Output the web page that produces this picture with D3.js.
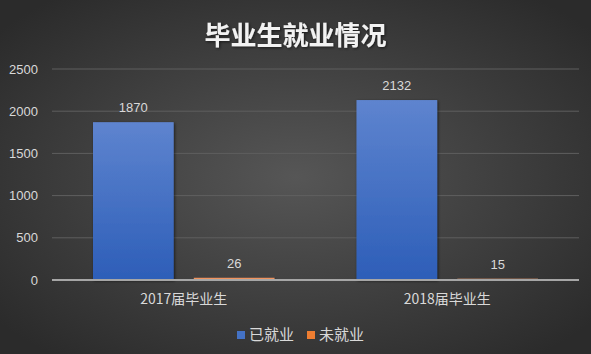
<!DOCTYPE html>
<html>
<head>
<meta charset="utf-8">
<script src="https://cdn.jsdelivr.net/npm/d3@7"></script>
<style>
  body { margin: 0; background: #333; }
  svg { display: block; font-family: "Noto Sans CJK SC", "Microsoft YaHei", sans-serif; }
</style>
</head>
<body>
<div class="chart"></div>
<script>
// data
const categories = ["2017届毕业生", "2018届毕业生"];
const seriesNames = ["已就业", "未就业"];
const employed = [1870, 2132];
const unemployed = [26, 15];
const yTicks = [0, 500, 1000, 1500, 2000, 2500];

const W = 591, H = 354;
const margin = {top: 69, right: 12, bottom: 74, left: 52};
const width = W - margin.left - margin.right,
      height = H - margin.top - margin.bottom;

const svg = d3.select(".chart").append("svg")
  .attr("width", W).attr("height", H);

const defs = svg.append("defs");
const bg = defs.append("radialGradient").attr("id", "bg")
  .attr("cx", "50%").attr("cy", "50%").attr("r", "65%");
bg.append("stop").attr("offset", "0%").attr("stop-color", "#565656");
bg.append("stop").attr("offset", "100%").attr("stop-color", "#2b2b2b");

const blueGrad = defs.append("linearGradient").attr("id", "blueGrad")
  .attr("x1", 0).attr("y1", 0).attr("x2", 0).attr("y2", 1);
blueGrad.append("stop").attr("offset", "0%").attr("stop-color", "#5e84cf");
blueGrad.append("stop").attr("offset", "100%").attr("stop-color", "#2d5eb8");

const orangeGrad = defs.append("linearGradient").attr("id", "orangeGrad")
  .attr("x1", 0).attr("y1", 0).attr("x2", 0).attr("y2", 1);
orangeGrad.append("stop").attr("offset", "0%").attr("stop-color", "#f4a070");
orangeGrad.append("stop").attr("offset", "100%").attr("stop-color", "#e8793a");

const shadow = defs.append("filter").attr("id", "shadow")
  .attr("x", "-20%").attr("y", "-20%").attr("width", "140%").attr("height", "140%");
shadow.append("feDropShadow").attr("dx", 1).attr("dy", 1).attr("stdDeviation", 1.5)
  .attr("flood-color", "#000").attr("flood-opacity", 0.6);

svg.append("rect").attr("width", W).attr("height", H).attr("fill", "url(#bg)");

// title
svg.append("text")
  .attr("x", W / 2).attr("y", 45)
  .attr("text-anchor", "middle")
  .attr("fill", "#f2f2f2")
  .attr("font-size", 26).attr("font-weight", "bold")
  .attr("filter", "url(#shadow)")
  .text("毕业生就业情况");

const g = svg.append("g")
  .attr("transform", `translate(${margin.left},${margin.top})`);

const x0 = d3.scaleBand().domain(categories).range([0, width]).paddingInner(0).paddingOuter(0);
const x1 = d3.scaleBand().domain(seriesNames).range([41, x0.bandwidth() - 41]).paddingInner(0.2).paddingOuter(0);
const y = d3.scaleLinear().domain([0, 2500]).range([height, 0]);

// grid
g.append("g").selectAll("line")
  .data(yTicks.filter(d => d > 0))
  .join("line")
  .attr("x1", 0).attr("x2", width)
  .attr("y1", d => y(d)).attr("y2", d => y(d))
  .attr("stroke", "#5f5f5f").attr("stroke-width", 1);

// y axis labels
const yAxis = d3.axisLeft(y).tickValues(yTicks).tickFormat(d3.format("d")).tickSize(0).tickPadding(14);
g.append("g").call(yAxis)
  .call(s => s.select(".domain").remove())
  .selectAll("text")
  .attr("fill", "#d9d9d9").attr("font-size", 13)
  .attr("font-family", "'Liberation Sans', Arial, sans-serif");

const rows = categories.map((c, i) => ({cat: c, vals: [
  {name: seriesNames[0], value: employed[i]},
  {name: seriesNames[1], value: unemployed[i]}
]}));
const fills = {"已就业": "url(#blueGrad)", "未就业": "url(#orangeGrad)"};

const groups = g.selectAll(".grp").data(rows).join("g")
  .attr("class", "grp")
  .attr("transform", d => `translate(${x0(d.cat)},0)`);

groups.selectAll("rect").data(d => d.vals).join("rect")
  .attr("x", d => x1(d.name))
  .attr("width", x1.bandwidth())
  .attr("y", d => y(d.value))
  .attr("height", d => y(0) - y(d.value))
  .attr("fill", d => fills[d.name])
  .attr("filter", "url(#shadow)");

groups.selectAll(".lbl").data(d => d.vals).join("text")
  .attr("class", "lbl")
  .attr("x", d => x1(d.name) + x1.bandwidth() / 2)
  .attr("y", d => y(d.value) - 10)
  .attr("text-anchor", "middle")
  .attr("fill", "#d9d9d9").attr("font-size", 13)
  .attr("font-family", "'Liberation Sans', Arial, sans-serif")
  .text(d => d.value);

// x axis line
g.append("line")
  .attr("x1", 0).attr("x2", width)
  .attr("y1", y(0)).attr("y2", y(0))
  .attr("stroke", "#a6a6a6").attr("stroke-width", 2);

// x axis labels
const xAxis = d3.axisBottom(x0).tickSize(0).tickPadding(14);
g.append("g").attr("transform", `translate(0,${height})`).call(xAxis)
  .call(s => s.select(".domain").remove())
  .selectAll("text")
  .attr("fill", "#d9d9d9").attr("font-size", 14)
  .attr("font-family", "'Noto Sans CJK SC', sans-serif");

// legend
const legend = svg.append("g").attr("transform", "translate(237,335)");
const legendColors = ["#4472c4", "#ed7d31"];
const items = legend.selectAll("g").data(seriesNames).join("g")
  .attr("transform", (d, i) => `translate(${i * 70},0)`);
items.append("rect").attr("x", 0).attr("y", -4).attr("width", 8).attr("height", 8)
  .attr("fill", (d, i) => legendColors[i]);
items.append("text").attr("x", 12).attr("y", 0).attr("dy", "0.35em")
  .attr("fill", "#d9d9d9").attr("font-size", 15)
  .text(d => d);
</script>
</body>
</html>
